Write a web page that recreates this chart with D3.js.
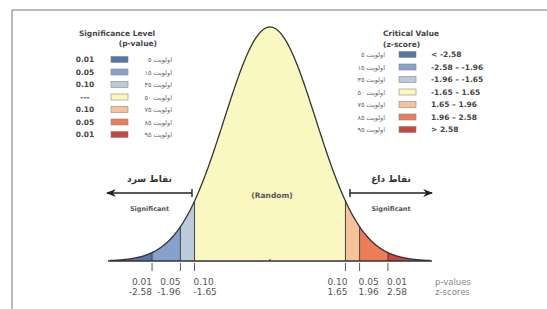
<!DOCTYPE html>
<html>
<head>
<meta charset="utf-8">
<script src="https://cdn.jsdelivr.net/npm/d3@7"></script>
<style>
  body { margin: 0; background: #fff; }
  svg { display: block; }
</style>
</head>
<body>
<svg id="chart" width="547" height="309"></svg>
<script>
// cut points of the z axis and their labels
const zCuts = [-2.58, -1.96, -1.65, 1.65, 1.96, 2.58];
const pTicks = ["0.01", "0.05", "0.10", "0.10", "0.05", "0.01"];
const zTicks = ["-2.58", "-1.96", "-1.65", "1.65", "1.96", "2.58"];
// one colour per band, from the left tail to the right tail
const bandColors = ["#5775ab", "#86a1cc", "#bccbd9", "#fbf7c0", "#f6c29a", "#ee7c58", "#c8463d"];

// legends
const legendP = ["0.01", "0.05", "0.10", "---", "0.10", "0.05", "0.01"];
const legendZ = ["< -2.58", "-2.58 – -1.96", "-1.96 – -1.65", "-1.65 – 1.65", "1.65 – 1.96", "1.96 – 2.58", "> 2.58"];
const rankLabels = ["اولویت ۵", "اولویت ۱۵", "اولویت ۳۵", "اولویت ۵۰", "اولویت ۷۵", "اولویت ۸۵", "اولویت ۹۵"];

const svg = d3.select("#chart");
const W = 547, H = 309;
const base = 261;

const x = d3.scaleLinear().domain([-3.5, 3.5]).range([110, 430]);
const pdf = z => Math.exp(-z * z / 2) / Math.sqrt(2 * Math.PI);
const y = d3.scaleLinear().domain([0, pdf(0)]).range([base, 27]);

// frame
svg.append("line").attr("x1", 12).attr("x2", W).attr("y1", 10).attr("y2", 10)
  .attr("stroke", "#777").attr("stroke-width", 1);
svg.append("line").attr("x1", 12).attr("x2", 12).attr("y1", 10).attr("y2", H)
  .attr("stroke", "#777").attr("stroke-width", 1);

// bands under the curve
const edges = [-3.5].concat(zCuts, [3.5]);
const area = d3.area().x(d => x(d)).y0(base).y1(d => y(pdf(d)));
for (let i = 0; i < edges.length - 1; i++) {
  const pts = d3.range(edges[i], edges[i + 1], 0.01).concat([edges[i + 1]]);
  svg.append("path").datum(pts).attr("d", area).attr("fill", bandColors[i]);
}

// band borders
svg.selectAll(".cut").data(zCuts).enter().append("line")
  .attr("x1", d => x(d)).attr("x2", d => x(d))
  .attr("y1", base).attr("y2", d => y(pdf(d)))
  .attr("stroke", "#444").attr("stroke-width", 1);

// curve
const line = d3.line().x(d => x(d)).y(d => y(pdf(d))).curve(d3.curveBasis);
svg.append("path").datum(d3.range(-3.5, 3.501, 0.02)).attr("d", line)
  .attr("fill", "none").attr("stroke", "#333").attr("stroke-width", 1.3);

// baseline + ticks
svg.append("line").attr("x1", x(-3.5) - 2).attr("x2", x(3.5) + 2)
  .attr("y1", base).attr("y2", base).attr("stroke", "#333").attr("stroke-width", 1.5);
svg.append("line").attr("x1", x(0)).attr("x2", x(0)).attr("y1", base - 2).attr("y2", base)
  .attr("stroke", "#333");
svg.selectAll(".tk").data(zCuts).enter().append("line")
  .attr("x1", d => x(d)).attr("x2", d => x(d))
  .attr("y1", base + 2).attr("y2", base + 10)
  .attr("stroke", "#555").attr("stroke-width", 1);

// outer labels sit away from the centre, inner ones toward it
const anchorFor = d => Math.abs(d) > 1.7 ? (d < 0 ? "end" : "start") : (d < 0 ? "start" : "end");
const dxFor = d => Math.abs(d) > 1.7 ? (d < 0 ? 0 : -1) : (d < 0 ? -1 : 2);
const tickFont = "'DejaVu Sans', sans-serif";
zCuts.forEach((d, i) => {
  svg.append("text").attr("x", x(d) + dxFor(d)).attr("y", 284.5)
    .attr("text-anchor", anchorFor(d)).attr("font-family", tickFont)
    .attr("font-size", 9).attr("fill", "#555").text(pTicks[i]);
  svg.append("text").attr("x", x(d) + dxFor(d)).attr("y", 295)
    .attr("text-anchor", anchorFor(d)).attr("font-family", tickFont)
    .attr("font-size", 9).attr("fill", "#555").text(zTicks[i]);
});
svg.append("text").attr("x", 435).attr("y", 284.5).attr("font-family", tickFont)
  .attr("font-size", 8.5).attr("fill", "#888").text("p-values");
svg.append("text").attr("x", 435).attr("y", 295).attr("font-family", tickFont)
  .attr("font-size", 8.5).attr("fill", "#888").text("z-scores");

// center label
const boldFont = "'DejaVu Sans', Verdana, sans-serif";
svg.append("text").attr("x", x(0) + 2).attr("y", 198).attr("text-anchor", "middle")
  .attr("font-family", boldFont).attr("font-weight", "bold").attr("font-size", 7.5)
  .attr("fill", "#555").text("(Random)");

// arrows for the two tails
const defs = svg.append("defs");
defs.append("marker").attr("id", "head").attr("viewBox", "0 0 10 10")
  .attr("refX", 9).attr("refY", 5).attr("markerWidth", 7).attr("markerHeight", 7)
  .attr("orient", "auto-start-reverse")
  .append("path").attr("d", "M0,1 L10,5 L0,9 L3,5 Z").attr("fill", "#222");

function tailArrow(from, to, label) {
  svg.append("line").attr("x1", from).attr("x2", to).attr("y1", 193).attr("y2", 193)
    .attr("stroke", "#222").attr("stroke-width", 1.4).attr("marker-end", "url(#head)");
  svg.append("line").attr("x1", from).attr("x2", from).attr("y1", 189).attr("y2", 197)
    .attr("stroke", "#222").attr("stroke-width", 1.4);
  const mid = (from + to) / 2;
  svg.append("text").attr("x", mid).attr("y", 182).attr("text-anchor", "middle")
    .attr("font-family", boldFont).attr("font-weight", "bold").attr("font-size", 9)
    .attr("fill", "#333").text(label);
  svg.append("text").attr("x", mid).attr("y", 211).attr("text-anchor", "middle")
    .attr("font-family", boldFont).attr("font-weight", "bold").attr("font-size", 6.5)
    .attr("fill", "#555").text("Significant");
}
tailArrow(192, 107, "نقاط سرد");
tailArrow(350, 432, "نقاط داغ");

// left legend
svg.append("text").attr("x", 117).attr("y", 36).attr("text-anchor", "middle")
  .attr("font-family", boldFont).attr("font-weight", "bold").attr("font-size", 7.5)
  .attr("fill", "#444").text("Significance Level");
svg.append("text").attr("x", 157).attr("y", 46).attr("text-anchor", "end")
  .attr("font-family", boldFont).attr("font-weight", "bold").attr("font-size", 7.5)
  .attr("fill", "#444").text("(p-value)");

const rowY0L = 59.5, rowY0R = 54.5, rowStep = 12.5;
legendP.forEach((d, i) => {
  const cy = rowY0L + i * rowStep;
  svg.append("text").attr("x", 85).attr("y", cy + 2.5).attr("text-anchor", "middle")
    .attr("font-family", boldFont).attr("font-weight", "bold").attr("font-size", 7.5)
    .attr("fill", "#444").text(d);
  svg.append("rect").attr("x", 111).attr("y", cy - 3).attr("width", 17).attr("height", 6)
    .attr("fill", bandColors[i]).attr("stroke", "#888").attr("stroke-width", 0.6);
  svg.append("text").attr("x", 172).attr("y", cy + 2.5).attr("text-anchor", "end")
    .attr("font-family", boldFont).attr("font-size", 6.5).attr("fill", "#666")
    .text(rankLabels[i]);
});

// right legend
svg.append("text").attr("x", 383).attr("y", 36)
  .attr("font-family", boldFont).attr("font-weight", "bold").attr("font-size", 7.5)
  .attr("fill", "#444").text("Critical Value");
svg.append("text").attr("x", 383).attr("y", 46.5)
  .attr("font-family", boldFont).attr("font-weight", "bold").attr("font-size", 7.5)
  .attr("fill", "#444").text("(z-score)");
legendZ.forEach((d, i) => {
  const cy = rowY0R + i * rowStep;
  svg.append("text").attr("x", 385).attr("y", cy + 2.5).attr("text-anchor", "end")
    .attr("font-family", boldFont).attr("font-size", 6.5).attr("fill", "#666")
    .text(rankLabels[i]);
  svg.append("rect").attr("x", 399).attr("y", cy - 3).attr("width", 17).attr("height", 6)
    .attr("fill", bandColors[i]).attr("stroke", "#888").attr("stroke-width", 0.6);
  svg.append("text").attr("x", 431).attr("y", cy + 2.5)
    .attr("font-family", boldFont).attr("font-weight", "bold").attr("font-size", 7.5)
    .attr("fill", "#444").text(d);
});
</script>
</body>
</html>
